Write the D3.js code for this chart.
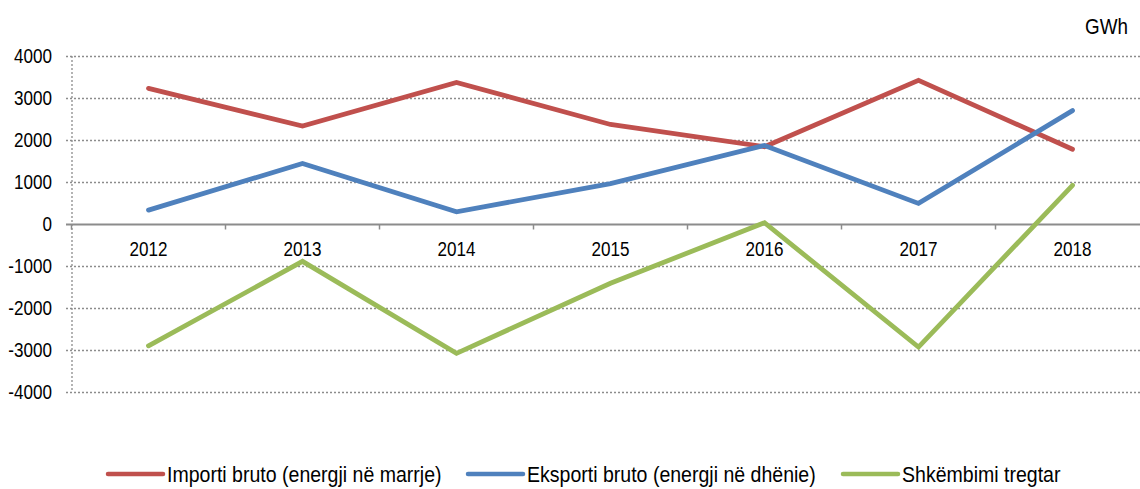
<!DOCTYPE html>
<html><head><meta charset="utf-8">
<script src="https://cdn.jsdelivr.net/npm/d3@7"></script>
<style>body{margin:0;background:#fff}svg{display:block}text{font-family:"Liberation Sans",Arial,sans-serif;fill:#000}</style>
</head><body><svg id="c" width="1140" height="489"></svg>
<script>
const years = ["2012","2013","2014","2015","2016","2017","2018"];
const importi = [3230, 2330, 3370, 2370, 1840, 3420, 1780];
const eksporti = [330, 1440, 290, 960, 1870, 490, 2700];
const shkembimi = [-2900, -890, -3080, -1410, 30, -2930, 920];
const yTicks = [4000, 3000, 2000, 1000, 0, -1000, -2000, -3000, -4000];
const seriesNames = ["Importi bruto (energji në marrje)", "Eksporti bruto (energji në dhënie)", "Shkëmbimi tregtar"];
const colors = ["#C0504D", "#4F81BD", "#9BBB59"];

const SX = 0.876;
const svg = d3.select("#c");
const x = d3.scaleBand().domain(years).range([71.5, 1149.5]);
const y = d3.scaleLinear().domain([-4000, 4000]).range([392, 56]);

function label(g, px, py, txt, size, anchor) {
  return g.append("text").attr("transform", `translate(${px},${py}) scale(${SX},1)`)
    .attr("dy", "0.35em").attr("text-anchor", anchor).attr("font-size", size).text(txt);
}

// gridlines
svg.append("g").selectAll("line").data(yTicks.filter(d => d !== 0)).join("line")
  .attr("x1", 66).attr("x2", 1140).attr("y1", d => Math.round(y(d)) + 0.5).attr("y2", d => Math.round(y(d)) + 0.5)
  .attr("stroke", "#8c8c8c").attr("stroke-width", 1.3).attr("stroke-dasharray", "2,2");
// y axis dotted
svg.append("line").attr("x1", 72).attr("x2", 72).attr("y1", y(4000)).attr("y2", y(-4000))
  .attr("stroke", "#8c8c8c").attr("stroke-width", 1.3).attr("stroke-dasharray", "2,2");
// y tick labels
const gy = svg.append("g");
yTicks.forEach(d => label(gy, 52, y(d), d, 19.5, "end"));
// zero axis
const y0 = Math.round(y(0)) + 0.5;
svg.append("line").attr("x1", 66).attr("x2", 1140).attr("y1", y0).attr("y2", y0).attr("stroke", "#8c8c8c").attr("stroke-width", 2);
// category ticks
svg.append("g").selectAll("line").data(years).join("line")
  .attr("x1", d => x(d)).attr("x2", d => x(d)).attr("y1", y0).attr("y2", y0 + 5)
  .attr("stroke", "#8c8c8c").attr("stroke-width", 1.5);
// year labels
const gx = svg.append("g");
years.forEach(d => label(gx, x(d) + x.bandwidth() / 2, 249, d, 19.5, "middle"));
// unit
label(svg, 1128, 26, "GWh", 21.5, "end");

// lines
const line = d3.line().x((d, i) => x(years[i]) + x.bandwidth() / 2).y(d => y(d));
[importi, eksporti, shkembimi].forEach((s, i) => {
  svg.append("path").datum(s).attr("d", line).attr("fill", "none").attr("stroke", colors[i])
    .attr("stroke-width", 4.8).attr("stroke-linecap", "round").attr("stroke-linejoin", "miter");
});

// legend
const legX = [108, 468, 843];
seriesNames.forEach((n, i) => {
  svg.append("line").attr("x1", legX[i]).attr("x2", legX[i] + 55).attr("y1", 474).attr("y2", 474)
    .attr("stroke", colors[i]).attr("stroke-width", 4.5).attr("stroke-linecap", "round");
  label(svg, legX[i] + 59, 474, n, 22.3, "start");
});
</script></body></html>
